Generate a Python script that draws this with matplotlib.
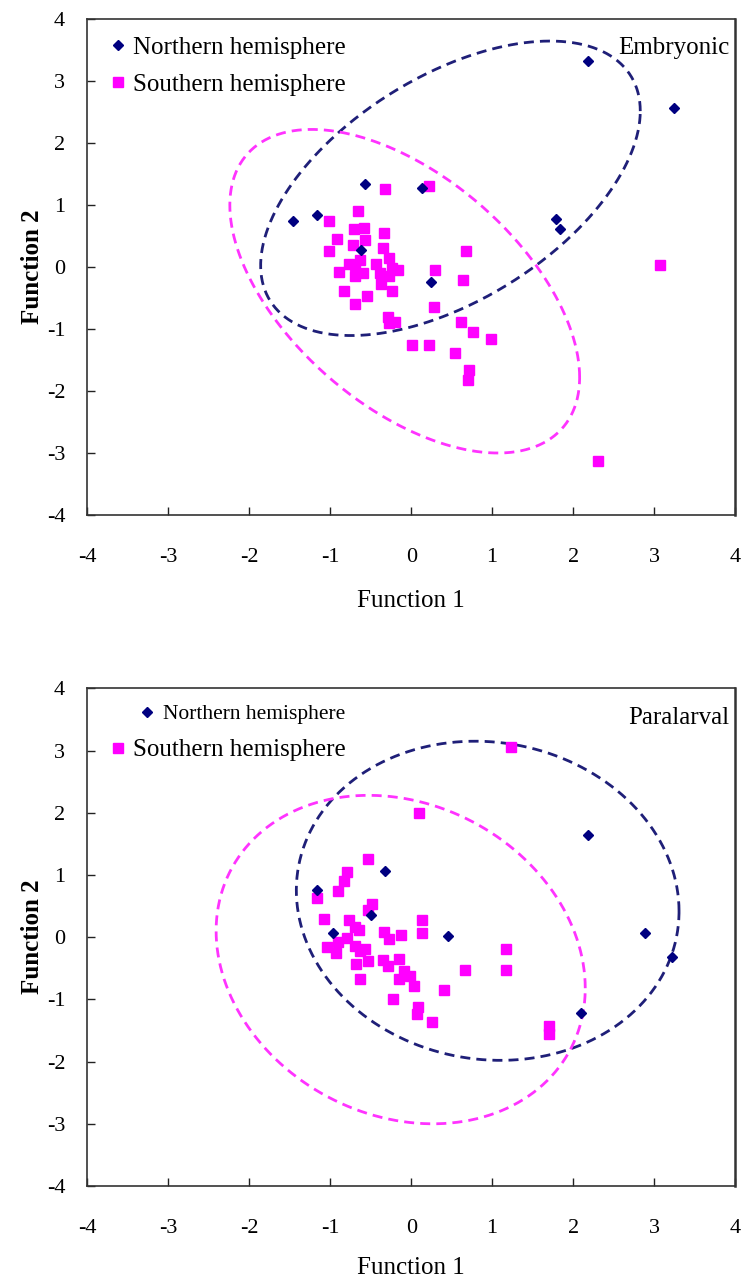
import numpy as np
import matplotlib
matplotlib.use('Agg')
import matplotlib.pyplot as plt

plt.rcParams['font.family'] = ['Liberation Serif', 'DejaVu Serif']

# ---------------- data ----------------
# Embryonic
emb_north_f1 = [-0.57, 0.13, -1.46, -1.16, -0.62, 0.24, 2.18, 3.25, 1.79, 1.84]
emb_north_f2 = [1.34, 1.28, 0.75, 0.84, 0.27, -0.24, 3.33, 2.56, 0.77, 0.61]
emb_south_f1 = [-0.32, 0.22, -0.66, -1.02, -0.71, -0.58, -0.33, -0.92, -0.57, -1.02,
                -0.72, -0.35, -0.27, 0.68, -0.63, -0.44, -0.77, 0.30, -0.16, -0.24,
                -0.89, -0.60, -0.69, -0.39, -0.28, 0.64, -0.37, -0.24, -0.83, -0.55,
                -0.70, 0.28, -0.29, -0.20, -0.28, 0.61, 0.76, 0.99, 0.01, 0.22,
                0.54, 0.71, 0.70, 2.31, 3.08, -0.70]
emb_south_f2 = [1.26, 1.30, 0.91, 0.75, 0.62, 0.63, 0.55, 0.46, 0.43, 0.26,
                0.35, 0.31, 0.14, 0.26, 0.12, 0.05, 0.05, -0.04, -0.04, -0.01,
                -0.08, -0.09, -0.15, -0.10, -0.15, -0.21, -0.28, -0.39, -0.39, -0.47,
                -0.59, -0.64, -0.80, -0.89, -0.90, -0.88, -1.04, -1.16, -1.25, -1.25,
                -1.39, -1.66, -1.82, -3.13, 0.03, 0.04]

# Paralarval
par_north_f1 = [-0.32, -1.16, -0.50, -0.97, 0.45, 2.19, 2.89, 3.22, 2.10]
par_north_f2 = [1.07, 0.76, 0.35, 0.07, 0.02, 1.64, 0.06, -0.32, -1.22]
par_south_f1 = [1.23, 0.10, -0.53, -0.79, -0.83, -0.90, -1.17, -0.48, -0.53, -1.08,
                -0.77, 0.13, 0.13, -0.70, -0.64, -0.34, -0.13, -0.27, -0.79, -0.90,
                -1.04, -0.93, -0.69, -0.57, -0.63, 1.17, 1.17, 0.67, -0.53, -0.68,
                -0.35, -0.29, -0.15, -0.09, -0.15, -0.01, 0.03, -0.63, 0.40, -0.23,
                0.08, 0.07, 0.26, 1.70, 1.70]
par_south_f2 = [3.06, 2.00, 1.26, 1.05, 0.91, 0.75, 0.63, 0.54, 0.43, 0.30,
                0.27, 0.27, 0.07, 0.16, 0.11, 0.09, 0.04, -0.03, -0.01, -0.07,
                -0.15, -0.25, -0.14, -0.19, -0.23, -0.19, -0.52, -0.52, -0.39, -0.43,
                -0.36, -0.47, -0.35, -0.55, -0.67, -0.63, -0.79, -0.67, -0.85, -1.00,
                -1.13, -1.24, -1.37, -1.42, -1.55]

# group ellipses: centre f1, centre f2, var f1, var f2, cov
emb_north_ellipse = [0.485, 1.27, 5.50, 5.64, 2.92]
emb_south_ellipse = [-0.08, -0.39, 4.67, 6.81, -3.00]
par_north_ellipse = [0.945, 0.585, 5.59, 6.58, -0.40]
par_south_ellipse = [-0.13, -0.36, 5.20, 6.97, -1.05]

ticks = [-4, -3, -2, -1, 0, 1, 2, 3, 4]
labels_series = ['Northern hemisphere', 'Southern hemisphere']
panel_titles = ['Embryonic', 'Paralarval']

# ---------------- style ----------------
NAVY = '#000080'
MAG = '#FF00FF'
NAVY_LINE = '#1f1f78'
MAG_LINE = '#FF33FF'


def ellipse_pts(p, n=500):
    cx, cy, sxx, syy, sxy = p
    L = np.linalg.cholesky(np.array([[sxx, sxy], [sxy, syy]]))
    t = np.linspace(0, 2 * np.pi, n)
    pts = L @ np.vstack([np.cos(t), np.sin(t)])
    return cx + pts[0], cy + pts[1]


fig = plt.figure(figsize=(7.45, 12.78), dpi=100)
ax_top = fig.add_axes([0.1174, 0.5970, 0.8691, 0.3881])
ax_bot = fig.add_axes([0.1174, 0.07199, 0.8691, 0.3894])

panels = [
    (ax_top, emb_north_f1, emb_north_f2, emb_south_f1, emb_south_f2,
     emb_north_ellipse, emb_south_ellipse, panel_titles[0]),
    (ax_bot, par_north_f1, par_north_f2, par_south_f1, par_south_f2,
     par_north_ellipse, par_south_ellipse, panel_titles[1]),
]

for i, (ax, nf1, nf2, sf1, sf2, ne, se, title) in enumerate(panels):
    ex, ey = ellipse_pts(ne)
    ax.plot(ex, ey, color=NAVY_LINE, lw=2.0, linestyle=(0, (3.6, 2.2)), zorder=2)
    ex, ey = ellipse_pts(se)
    ax.plot(ex, ey, color=MAG_LINE, lw=2.0, linestyle=(0, (3.6, 2.2)), zorder=2)

    hn, = ax.plot(nf1, nf2, linestyle='none', marker='D', ms=5.2, color=NAVY,
                  mec=NAVY, label=labels_series[0], zorder=4)
    hs, = ax.plot(sf1, sf2, linestyle='none', marker='s', ms=7.8, color=MAG,
                  mec=MAG, label=labels_series[1], zorder=3)

    ax.set_xlim(-4, 4)
    ax.set_ylim(-4, 4)
    ax.set_xticks(ticks)
    ax.set_yticks(ticks)
    ax.set_xticklabels([str(t) for t in ticks])
    ax.set_yticklabels([str(t) for t in ticks])
    ax.tick_params(direction='in', length=5.5, width=1, labelsize=16,
                   colors='#222222', labelcolor='black')
    ax.tick_params(axis='x', pad=24)
    ax.tick_params(axis='y', pad=16)
    for s in ax.spines.values():
        s.set_color('#333333')
        s.set_linewidth(1.2)
    ax.spines['right'].set_linewidth(1.8)

    ax.set_xlabel('Function 1', fontsize=18, labelpad=16 if i == 0 else 13.5)
    ax.set_ylabel('Function 2', fontsize=18, fontweight='bold', labelpad=2)

    ax.text(0.991, 0.941, title, transform=ax.transAxes, ha='right',
            va='center', fontsize=18)

    if i == 0:
        ax.legend(loc='upper left', bbox_to_anchor=(0.036, 0.965), frameon=False,
                  fontsize=18, handlelength=0.6, handletextpad=0.3,
                  labelspacing=0.58, borderpad=0, borderaxespad=0, numpoints=1)
    else:
        leg1 = ax.legend(handles=[hn], labels=[labels_series[0]],
                         loc='center left', bbox_to_anchor=(0.0815, 0.948),
                         frameon=False, fontsize=15.5, handlelength=0.6,
                         handletextpad=0.45, borderpad=0, borderaxespad=0,
                         numpoints=1)
        ax.add_artist(leg1)
        ax.legend(handles=[hs], labels=[labels_series[1]],
                  loc='center left', bbox_to_anchor=(0.0355, 0.876),
                  frameon=False, fontsize=18, handlelength=0.6,
                  handletextpad=0.3, borderpad=0, borderaxespad=0,
                  numpoints=1)

fig.savefig('out.png', dpi=100)
